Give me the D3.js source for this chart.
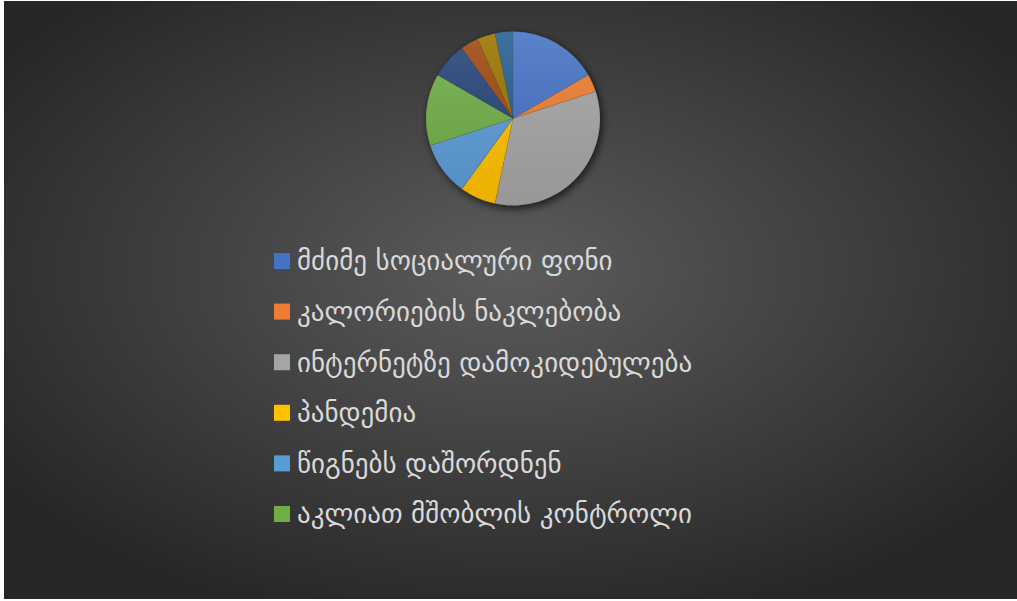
<!DOCTYPE html>
<html>
<head>
<meta charset="utf-8">
<script src="https://cdn.jsdelivr.net/npm/d3@7"></script>
<style>
  html, body { margin: 0; padding: 0; background: #ffffff; }
  svg { display: block; }
</style>
</head>
<body>
<div class="pie"></div>
<script>
// legend shows only the first six categories
const categories = [
  "მძიმე სოციალური ფონი",
  "კალორიების ნაკლებობა",
  "ინტერნეტზე დამოკიდებულება",
  "პანდემია",
  "წიგნებს დაშორდნენ",
  "აკლიათ მშობლის კონტროლი",
];
const values = [5, 1, 10, 2, 3, 4, 2, 1, 1, 1];
const colors = [
  "#4472C4", "#ED7D31", "#A5A5A5", "#FFC000", "#5B9BD5",
  "#70AD47", "#264478", "#9E480E", "#997300", "#255E91",
];

const width = 1017;
const height = 601;
const frame = { left: 4, top: 1, right: 1017, bottom: 599 };
const center = { x: 513, y: 118.5 };
const radius = 87;

const svg = d3.select(".pie")
  .append("svg")
  .attr("width", width)
  .attr("height", height);

const defs = svg.append("defs");

// background glow
const bg = defs.append("radialGradient")
  .attr("id", "bg")
  .attr("cx", "50%").attr("cy", "45%").attr("r", "62%");
bg.append("stop").attr("offset", "0%").attr("stop-color", "#5c5c5c");
bg.append("stop").attr("offset", "100%").attr("stop-color", "#262626");

// pie shadow
const shadow = defs.append("filter")
  .attr("id", "shadow")
  .attr("x", "-30%").attr("y", "-30%")
  .attr("width", "160%").attr("height", "160%");
shadow.append("feDropShadow")
  .attr("dx", 2).attr("dy", 3)
  .attr("stdDeviation", 4)
  .attr("flood-color", "#000")
  .attr("flood-opacity", 0.7);

// soft light over the slices
const sheen = defs.append("linearGradient")
  .attr("id", "sheen")
  .attr("x1", 0).attr("y1", 0).attr("x2", 0).attr("y2", 1);
sheen.append("stop").attr("offset", "0%").attr("stop-color", "#fff").attr("stop-opacity", 0.12);
sheen.append("stop").attr("offset", "100%").attr("stop-color", "#000").attr("stop-opacity", 0.08);

svg.append("rect")
  .attr("x", frame.left)
  .attr("y", frame.top)
  .attr("width", frame.right - frame.left)
  .attr("height", frame.bottom - frame.top)
  .attr("fill", "url(#bg)");

const pieGenerator = d3.pie().sort(null).value((d) => d);
const arcGenerator = d3.arc().innerRadius(0).outerRadius(radius);

const g = svg.append("g")
  .attr("transform", `translate(${center.x}, ${center.y})`);

g.append("circle")
  .attr("r", radius)
  .attr("fill", "#444")
  .attr("filter", "url(#shadow)");

g.selectAll("path.slice")
  .data(pieGenerator(values))
  .enter()
  .append("path")
  .attr("class", "slice")
  .attr("d", arcGenerator)
  .attr("fill", (d, i) => colors[i])
  .attr("stroke", "rgba(0,0,0,0.15)")
  .attr("stroke-width", 0.5);

g.append("circle")
  .attr("r", radius)
  .attr("fill", "url(#sheen)");

// legend
const legendX = 274;
const legendY = 261;
const rowStep = 50.6;
const box = 16;

const row = svg.selectAll("g.legend")
  .data(categories)
  .enter()
  .append("g")
  .attr("class", "legend")
  .attr("transform", (d, i) => `translate(${legendX}, ${legendY + i * rowStep})`);

row.append("rect")
  .attr("x", 0)
  .attr("y", -box / 2)
  .attr("width", box)
  .attr("height", box)
  .attr("fill", (d, i) => colors[i]);

row.append("text")
  .attr("x", 23)
  .attr("y", 0)
  .attr("dy", "0.35em")
  .attr("fill", "#d9d9d9")
  .style("font-family", "'DejaVu Sans', sans-serif")
  .style("font-size", "27px")
  .text((d) => d);
</script>
</body>
</html>
